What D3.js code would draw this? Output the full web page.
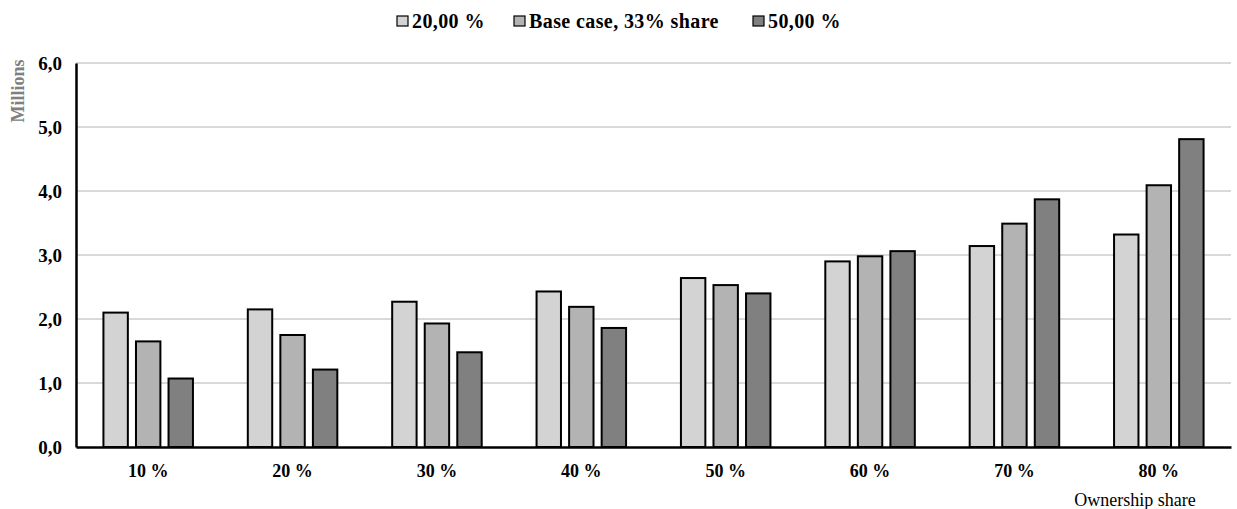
<!DOCTYPE html>
<html>
<head>
<meta charset="utf-8">
<script src="https://cdn.jsdelivr.net/npm/d3@7"></script>
<style>
  html, body { margin: 0; padding: 0; background: #fff; }
  svg { display: block; }
  text { font-family: "Liberation Serif", "Times New Roman", serif; }
</style>
</head>
<body>
<svg id="chart" width="1237" height="509"></svg>
<script>
// Ownership share categories on the x axis
const categories = ["10 %", "20 %", "30 %", "40 %", "50 %", "60 %", "70 %", "80 %"];
// Series names shown in the legend
const seriesNames = ["20,00 %", "Base case, 33% share", "50,00 %"];
// Values in millions, one array per series
const s20 = [2.10, 2.15, 2.27, 2.43, 2.64, 2.90, 3.14, 3.32];
const sBase = [1.65, 1.75, 1.93, 2.19, 2.53, 2.98, 3.49, 4.09];
const s50 = [1.07, 1.21, 1.48, 1.86, 2.40, 3.06, 3.87, 4.81];
const yTicks = [0, 1, 2, 3, 4, 5, 6];
const colors = ["#d3d3d3", "#b3b3b3", "#808080"];

const seriesValues = [s20, sBase, s50];
const svg = d3.select("#chart");

const plotLeft = 76, plotRight = 1231, plotTop = 63, plotBottom = 447;

const x = d3.scaleBand().domain(categories).range([plotLeft, plotRight]).paddingInner(0.38).paddingOuter(0.19);
const xs = d3.scaleBand().domain(d3.range(seriesNames.length)).range([0, x.bandwidth()]).paddingInner(0.25).paddingOuter(0);
const y = d3.scaleLinear().domain([0, 6]).range([plotBottom, plotTop]);

const fmt = v => d3.format(".1f")(v).replace(".", ",");

// horizontal gridlines
svg.append("g")
  .selectAll("line")
  .data(yTicks.filter(t => t > 0))
  .join("line")
  .attr("x1", plotLeft).attr("x2", plotRight)
  .attr("y1", d => y(d)).attr("y2", d => y(d))
  .attr("stroke", "#d9d9d9").attr("stroke-width", 2);

// bars
const groups = svg.append("g")
  .selectAll("g")
  .data(categories)
  .join("g")
  .attr("transform", d => `translate(${x(d)},0)`);

groups.selectAll("rect")
  .data((d, i) => seriesValues.map((vals, k) => ({ k, v: vals[i] })))
  .join("rect")
  .attr("x", d => xs(d.k))
  .attr("width", xs.bandwidth())
  .attr("y", d => y(d.v))
  .attr("height", d => y(0) - y(d.v))
  .attr("fill", d => colors[d.k])
  .attr("stroke", "#000")
  .attr("stroke-width", 2);

// y axis
const yAxis = d3.axisLeft(y).tickValues(yTicks).tickFormat(fmt).tickSize(0).tickPadding(14);
const gy = svg.append("g").attr("transform", `translate(${plotLeft},0)`).call(yAxis);
gy.select(".domain").attr("stroke", "#000").attr("stroke-width", 2.5);
gy.selectAll("text").attr("font-size", 19).attr("font-weight", "bold").attr("fill", "#000")
  .attr("font-family", "Liberation Serif, serif");

// x axis
const xAxis = d3.axisBottom(x).tickSize(0).tickPadding(17);
const gx = svg.append("g").attr("transform", `translate(0,${plotBottom})`).call(xAxis);
gx.select(".domain").attr("stroke", "#000").attr("stroke-width", 2.5);
gx.selectAll("text").attr("font-size", 18).attr("font-weight", "bold").attr("fill", "#000")
  .attr("font-family", "Liberation Serif, serif");

// axis titles
svg.append("text")
  .attr("transform", `translate(24,91) rotate(-90)`)
  .attr("text-anchor", "middle")
  .attr("font-size", 18).attr("font-weight", "bold").attr("fill", "#808080")
  .text("Millions");

svg.append("text")
  .attr("x", 1135).attr("y", 506)
  .attr("text-anchor", "middle")
  .attr("font-size", 18).attr("fill", "#000")
  .text("Ownership share");

// legend
const legendX = [397, 514, 753];
const legend = svg.append("g")
  .selectAll("g")
  .data(seriesNames)
  .join("g")
  .attr("transform", (d, i) => `translate(${legendX[i]},16)`);
legend.append("rect")
  .attr("width", 11).attr("height", 10)
  .attr("fill", (d, i) => colors[i])
  .attr("stroke", "#000").attr("stroke-width", 1.2);
legend.append("text")
  .attr("x", 15).attr("y", 12)
  .attr("font-size", 20).attr("font-weight", "bold").attr("fill", "#000")
  .attr("letter-spacing", 0.4)
  .text(d => d);
</script>
</body>
</html>
